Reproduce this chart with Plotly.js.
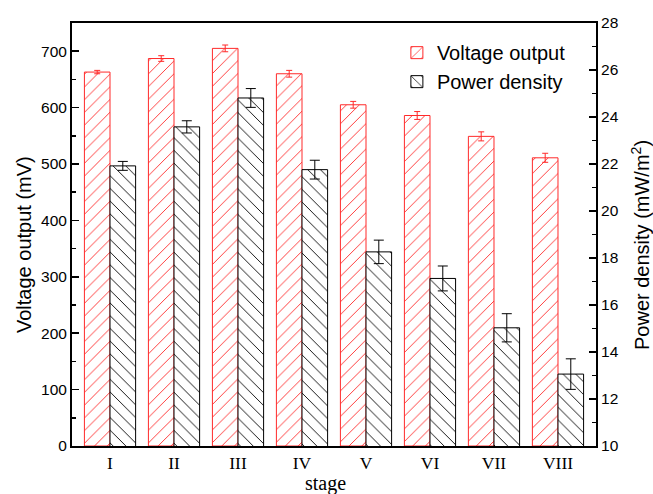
<!DOCTYPE html>
<html><head><meta charset="utf-8">
<script src="https://cdn.plot.ly/plotly-3.0.1.min.js"></script>
<style>body{margin:0;background:#fff}#c{width:653px;height:494px}</style>
</head><body><div id="c"></div>
<script>
const stages = ["I","II","III","IV","V","VI","VII","VIII"];
const voltage = [663, 687, 705, 660, 605, 586, 549, 511];
const voltageErr = [3, 5, 6, 6, 6, 7, 8, 8];
const power = [21.92, 23.58, 24.81, 21.76, 18.26, 17.13, 15.03, 13.06];
const powerErr = [0.19, 0.26, 0.4, 0.4, 0.5, 0.53, 0.6, 0.65];

const RED = '#ff2a2a';
const traces = [
  {type:'bar', name:'Voltage output', x:stages, y:voltage, yaxis:'y',
   offset:-0.4, width:0.4,
   marker:{color:'#ffffff', line:{color:RED, width:1},
     pattern:{shape:'/', fgcolor:RED, bgcolor:'#ffffff', size:9, solidity:0.1}},
   error_y:{type:'data', array:voltageErr, visible:true, color:RED, thickness:1, width:3}},
  {type:'bar', name:'Power density', x:stages, y:power, yaxis:'y2',
   offset:0, width:0.4,
   marker:{color:'#ffffff', line:{color:'#000000', width:1},
     pattern:{shape:'\\', fgcolor:'#000000', bgcolor:'#ffffff', size:9, solidity:0.1}},
   error_y:{type:'data', array:powerErr, visible:true, color:'#000000', thickness:1, width:5}}
];

const sans = 'Liberation Sans, Arial, sans-serif';
const serif = 'Liberation Serif, Times New Roman, serif';
const layout = {
  width:653, height:494,
  margin:{l:72, r:57, t:23, b:48},
  paper_bgcolor:'#fff', plot_bgcolor:'#fff',
  showlegend:true,
  legend:{x:0.62, y:0.976, xanchor:'left', yanchor:'top', bgcolor:'rgba(0,0,0,0)',
    font:{family:sans, size:20, color:'#000'}, tracegroupgap:0},
  xaxis:{type:'category', range:[-0.594, 7.594], showline:true, linecolor:'#000', linewidth:2,
    mirror:true, ticks:'', showgrid:false, zeroline:false,
    tickfont:{family:serif, size:17.5, color:'#000'}},
  xaxis2:{overlaying:'x', anchor:'y', side:'bottom', range:[0, 20.55], dtick:1, tick0:0,
    ticks:'inside', ticklen:4, tickwidth:1.5, tickcolor:'#000', showticklabels:false,
    showline:false, showgrid:false, zeroline:false},
  xaxis3:{overlaying:'x', anchor:'y', side:'top', range:[0, 10], dtick:1, tick0:0,
    ticks:'inside', ticklen:4, tickwidth:1.5, tickcolor:'#000', showticklabels:false,
    showline:false, showgrid:false, zeroline:false},
  yaxis:{range:[0,750], dtick:100, tick0:0, showline:true, linecolor:'#000', linewidth:2,
    ticks:'inside', ticklen:7, tickwidth:1.5, tickcolor:'#000',
    minor:{dtick:50, ticks:'inside', ticklen:4, tickcolor:'#000'},
    showgrid:false, zeroline:false,
    tickfont:{family:sans, size:15.5, color:'#000'}},
  yaxis2:{overlaying:'y', side:'right', range:[10,28], dtick:2, tick0:10, showline:true,
    linecolor:'#000', linewidth:2, ticks:'inside', ticklen:7, tickwidth:1.5, tickcolor:'#000',
    minor:{dtick:1, ticks:'inside', ticklen:4, tickcolor:'#000'},
    showgrid:false, zeroline:false,
    tickfont:{family:sans, size:15.5, color:'#000'}},
  annotations:[
    {text:'Voltage output (mV)', xref:'paper', yref:'paper', x:-0.0916, y:0.4752,
     xanchor:'center', yanchor:'middle', textangle:-90, showarrow:false,
     font:{family:sans, size:20, color:'#000'}},
    {text:'Power density (mW/m<sup>2</sup>)', xref:'paper', yref:'paper', x:1.0859, y:0.4752,
     xanchor:'center', yanchor:'middle', textangle:-90, showarrow:false,
     font:{family:sans, size:20, color:'#000'}},
    {text:'stage', xref:'paper', yref:'paper', x:0.4847, y:-0.0898,
     xanchor:'center', yanchor:'middle', showarrow:false,
     font:{family:serif, size:20, color:'#000'}}
  ]
};
Plotly.newPlot('c', traces, layout, {displayModeBar:false, staticPlot:true});
</script></body></html>
